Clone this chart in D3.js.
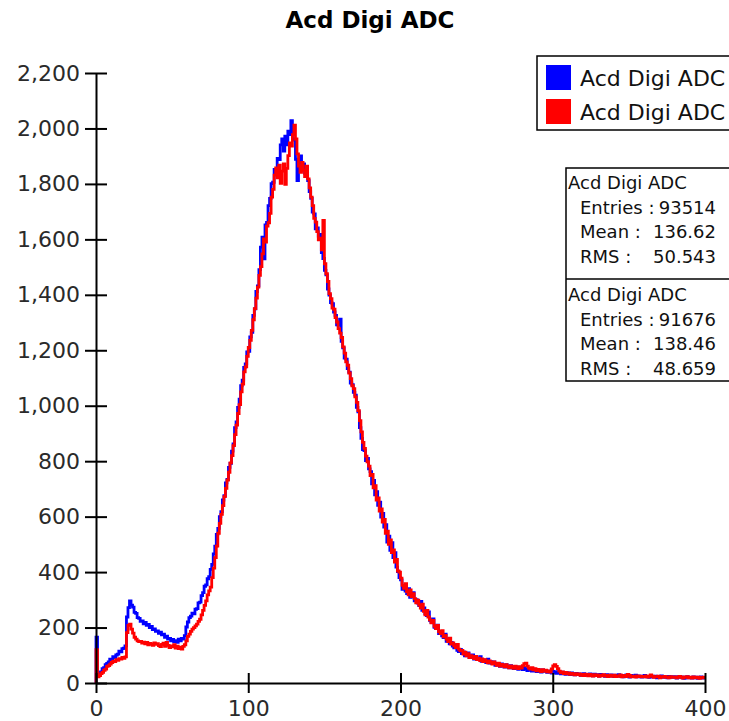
<!DOCTYPE html>
<html>
<head>
<meta charset="utf-8">
<script src="https://cdn.jsdelivr.net/npm/d3@7"></script>
<style>
  body { margin: 0; background: #fff; }
  svg { display: block; font-family: "DejaVu Sans", sans-serif; }
</style>
</head>
<body>
<div id="chart"></div>
<script>
// histogram, 1 ADC count per bin, bins 0..399
var binStart = 0
var binWidth = 1

var blueCounts = [
  165, 28, 36, 40, 52, 55, 66, 71, 76, 86, 84, 95, 92, 101, 104, 115, 112, 124, 126, 134,
  238, 272, 296, 281, 274, 255, 251, 236, 233, 222, 224, 213, 219, 208, 211, 200, 204, 193, 195, 186,
  188, 179, 183, 174, 176, 165, 169, 158, 161, 152, 157, 148, 153, 147, 158, 152, 161, 158, 171, 202,
  220, 236, 241, 252, 249, 266, 268, 289, 292, 315, 326, 349, 354, 376, 384, 410, 428, 466, 494, 536,
  558, 600, 618, 660, 676, 722, 734, 778, 792, 836, 862, 921, 942, 994, 1024, 1072, 1092, 1138, 1151, 1194,
  1196, 1248, 1265, 1326, 1349, 1412, 1432, 1491, 1572, 1608, 1530, 1652, 1661, 1722, 1748, 1801, 1806, 1852, 1848, 1892,
  1888, 1941, 1962, 1918, 1972, 1941, 1990, 1978, 2028, 1962, 1958, 1889, 1812, 1878, 1901, 1868, 1872, 1838, 1851, 1812,
  1772, 1748, 1698, 1692, 1638, 1641, 1612, 1618, 1552, 1531, 1488, 1472, 1421, 1399, 1372, 1368, 1338, 1326, 1292, 1290,
  1312, 1232, 1209, 1172, 1168, 1134, 1121, 1082, 1076, 1048, 1038, 994, 978, 921, 882, 842, 838, 802, 810, 772,
  762, 718, 731, 679, 690, 641, 652, 598, 612, 562, 571, 508, 530, 478, 506, 452, 470, 418, 402, 380,
  372, 338, 352, 331, 322, 340, 309, 318, 326, 296, 301, 288, 279, 294, 262, 271, 250, 243, 256, 226,
  219, 231, 201, 196, 209, 178, 186, 170, 164, 176, 150, 158, 141, 146, 133, 127, 138, 118, 113, 121,
  106, 112, 98, 103, 109, 92, 97, 101, 86, 93, 84, 89, 95, 78, 83, 80, 74, 86, 72, 77,
  70, 76, 64, 71, 67, 60, 69, 62, 57, 66, 59, 55, 63, 58, 52, 60, 55, 49, 57, 53,
  48, 55, 50, 45, 53, 47, 43, 50, 46, 41, 49, 44, 39, 47, 42, 45, 38, 43, 40, 36,
  42, 38, 35, 41, 36, 33, 39, 35, 31, 37, 34, 30, 36, 32, 29, 35, 31, 33, 28, 32,
  34, 29, 31, 27, 33, 30, 26, 32, 28, 30, 25, 31, 29, 27, 24, 30, 28, 25, 29, 26,
  23, 28, 26, 30, 24, 27, 22, 26, 29, 24, 21, 27, 25, 23, 28, 22, 26, 24, 21, 25,
  27, 22, 24, 20, 26, 23, 21, 25, 19, 24, 22, 26, 20, 23, 21, 19, 24, 22, 20, 23,
  21, 18, 23, 20, 22, 19, 17, 21, 23, 19, 20, 18, 22, 19, 21, 17, 20, 22, 18, 20
]

var redCounts = [
  120, 22, 27, 34, 38, 46, 50, 60, 63, 68, 74, 79, 77, 84, 82, 88, 86, 92, 89, 94,
  182, 208, 212, 194, 180, 165, 158, 152, 149, 150, 144, 147, 141, 146, 138, 143, 140, 136, 145, 139,
  142, 135, 131, 139, 144, 132, 146, 136, 128, 134, 130, 138, 126, 133, 124, 129, 122, 132, 138, 152,
  168, 176, 186, 194, 200, 206, 212, 222, 230, 246, 262, 280, 296, 318, 332, 346, 380, 414, 452, 494,
  540, 576, 608, 640, 672, 702, 732, 760, 794, 820, 856, 896, 930, 972, 1004, 1050, 1078, 1122, 1140, 1178,
  1210, 1236, 1272, 1310, 1350, 1388, 1428, 1470, 1502, 1548, 1602, 1590, 1648, 1660, 1694, 1752, 1780, 1832, 1858, 1822,
  1868, 1802, 1846, 1872, 1798, 1856, 1902, 1948, 1936, 1978, 2012, 1962, 1908, 1864, 1842, 1878, 1850, 1826, 1864, 1818,
  1786, 1752, 1722, 1676, 1662, 1628, 1598, 1604, 1562, 1668, 1512, 1476, 1448, 1404, 1386, 1352, 1348, 1318, 1302, 1278,
  1262, 1246, 1212, 1190, 1158, 1146, 1118, 1098, 1072, 1062, 1032, 1012, 982, 946, 906, 868, 846, 818, 798, 782,
  748, 752, 704, 712, 660, 668, 620, 628, 580, 590, 540, 548, 500, 516, 470, 480, 436, 446, 404, 400,
  378, 352, 341, 358, 330, 318, 336, 312, 322, 304, 289, 299, 281, 270, 284, 258, 246, 262, 238, 228,
  217, 226, 204, 196, 208, 185, 178, 189, 166, 172, 158, 149, 162, 140, 145, 134, 128, 139, 122, 116,
  118, 104, 111, 98, 106, 92, 99, 95, 88, 96, 84, 90, 81, 87, 77, 84, 79, 73, 80, 75,
  68, 76, 70, 64, 72, 61, 67, 63, 58, 66, 60, 55, 62, 57, 53, 61, 56, 52, 59, 54,
  63, 70, 72, 61, 54, 50, 55, 47, 52, 44, 49, 45, 41, 48, 43, 46, 40, 44, 39, 51,
  62, 66, 60, 52, 43, 37, 40, 34, 38, 33, 36, 31, 35, 32, 29, 34, 30, 33, 28, 31,
  27, 32, 29, 26, 31, 28, 25, 30, 27, 29, 24, 28, 26, 30, 25, 27, 23, 28, 26, 24,
  28, 23, 26, 24, 29, 22, 25, 27, 23, 31, 27, 22, 25, 24, 21, 26, 23, 25, 22, 24,
  22, 26, 21, 24, 29, 25, 20, 23, 22, 25, 19, 23, 21, 24, 20, 22, 19, 23, 21, 20,
  22, 19, 21, 24, 20, 18, 22, 20, 23, 19, 21, 18, 22, 20, 19, 21, 17, 20, 19, 21
]

var xTicks = [0, 100, 200, 300, 400]
var yTicks = [0, 200, 400, 600, 800, 1000, 1200, 1400, 1600, 1800, 2000, 2200]

var seriesNames = ['Acd Digi ADC', 'Acd Digi ADC']
var seriesColors = ['#0000ff', '#ff0000']
var statLabels = ['Entries :', 'Mean :', 'RMS :']
var blueStats = ['93514', '136.62', '50.543']
var redStats = ['91676', '138.46', '48.659']

var w = 729
var h = 721

var svg = d3.select('#chart')
  .append('svg')
  .attr('width', w)
  .attr('height', h)

var x = d3.scaleLinear()
  .domain([0, 400])
  .range([96, 705])

var y = d3.scaleLinear()
  .domain([0, 2200])
  .range([683, 73])

// title
svg.append('text')
  .attr('x', 370)
  .attr('y', 28)
  .attr('text-anchor', 'middle')
  .style('font-size', '23px')
  .style('font-weight', 'bold')
  .style('fill', '#000')
  .text('Acd Digi ADC')

// step path for one histogram
function histPoints(counts) {
  var pts = [[binStart, 0]]
  counts.forEach((c, i) => pts.push([binStart + i * binWidth, c]))
  pts.push([binStart + counts.length * binWidth, counts[counts.length - 1]])
  return pts
}

var line = d3.line()
  .x(d => x(d[0]))
  .y(d => y(d[1]))
  .curve(d3.curveStepAfter)

;[blueCounts, redCounts].forEach((counts, i) => {
  svg.append('path')
    .datum(histPoints(counts))
    .attr('d', line)
    .style('fill', 'none')
    .style('stroke', seriesColors[i])
    .style('stroke-width', 2.8)
})

// axes
var yAxis = d3.axisLeft(y)
  .tickValues(yTicks)
  .tickFormat(d3.format(','))
  .tickSizeInner(11)
  .tickSizeOuter(0)
  .tickPadding(5)

var xAxis = d3.axisBottom(x)
  .tickValues(xTicks)
  .tickFormat(d3.format('d'))
  .tickSizeInner(10)
  .tickSizeOuter(0)
  .tickPadding(7)

var gy = svg.append('g')
  .attr('transform', 'translate(' + x(0) + ',0)')
  .call(yAxis)
gy.selectAll('.tick line').attr('x1', 11)

var gx = svg.append('g')
  .attr('transform', 'translate(0,' + y(0) + ')')
  .call(xAxis)
gx.selectAll('.tick line').attr('y1', -10)

svg.selectAll('.domain, .tick line')
  .style('stroke', '#000')
  .style('stroke-width', 2)
svg.selectAll('.tick text')
  .style('font-family', '"DejaVu Sans", sans-serif')
  .style('font-size', '22px')
  .style('fill', '#2a2a2a')

// legend
var legend = svg.append('g')
legend.append('rect')
  .attr('x', 537)
  .attr('y', 56)
  .attr('width', 220)
  .attr('height', 74)
  .style('fill', '#fff')
  .style('stroke', '#000')
  .style('stroke-width', 1.5)

seriesNames.forEach((name, i) => {
  legend.append('rect')
    .attr('x', 546)
    .attr('y', 65 + i * 34)
    .attr('width', 25)
    .attr('height', 25)
    .style('fill', seriesColors[i])
  legend.append('text')
    .attr('x', 580)
    .attr('y', 86 + i * 34)
    .style('font-size', '22px')
    .style('fill', '#111')
    .text(name)
})

// stats boxes
var stats = svg.append('g')
stats.append('rect')
  .attr('x', 566)
  .attr('y', 168)
  .attr('width', 220)
  .attr('height', 213)
  .style('fill', '#fff')
  .style('stroke', '#000')
  .style('stroke-width', 1.5)
stats.append('line')
  .attr('x1', 566)
  .attr('x2', 729)
  .attr('y1', 279)
  .attr('y2', 279)
  .style('stroke', '#000')
  .style('stroke-width', 1.5)

;[blueStats, redStats].forEach((vals, k) => {
  var top = 189 + k * 112
  stats.append('text')
    .attr('x', 568)
    .attr('y', top)
    .style('font-size', '18px')
    .style('fill', '#111')
    .text(seriesNames[k])
  vals.forEach((v, j) => {
    stats.append('text')
      .attr('x', 580)
      .attr('y', top + 24.5 * (j + 1))
      .style('font-size', '18px')
      .style('fill', '#111')
      .text(statLabels[j])
    stats.append('text')
      .attr('x', 716)
      .attr('y', top + 24.5 * (j + 1))
      .attr('text-anchor', 'end')
      .style('font-size', '18px')
      .style('fill', '#111')
      .text(v)
  })
})
</script>
</body>
</html>
